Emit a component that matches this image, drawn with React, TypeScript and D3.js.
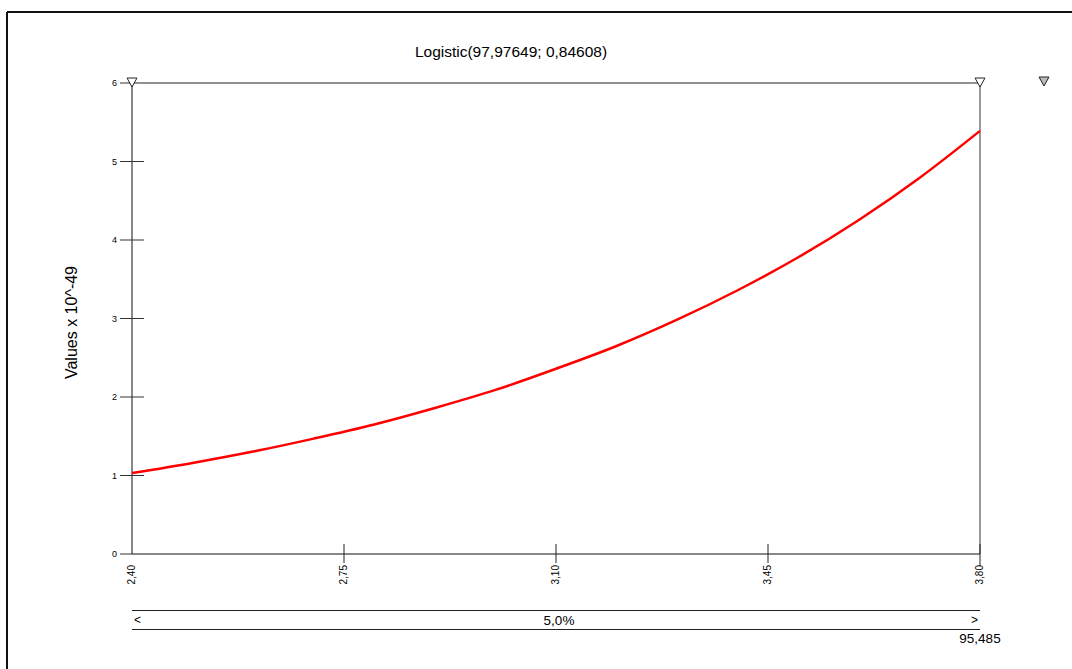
import React from "react";
import * as d3 from "d3";

const title = "Logistic(97,97649; 0,84608)";
const yLabel = "Values x 10^-49";
const xValues = [2.4, 2.5, 2.6, 2.7, 2.8, 2.9, 3.0, 3.1, 3.2, 3.3, 3.4, 3.5, 3.6, 3.7, 3.8];
const yValues = [1.03, 1.16, 1.305, 1.47, 1.65, 1.86, 2.09, 2.36, 2.65, 2.985, 3.36, 3.78, 4.255, 4.79, 5.39];
const xTicks = [2.4, 2.75, 3.1, 3.45, 3.8];
const xTickLabels = ["2,40", "2,75", "3,10", "3,45", "3,80"];
const yTicks = [0, 1, 2, 3, 4, 5, 6];
const bandLabel = "5,0%";
const rightValue = "95,485";

export default function App() {
  const W = 1072, H = 669;
  const x = d3.scaleLinear().domain([2.4, 3.8]).range([132, 980]);
  const y = d3.scaleLinear().domain([0, 6]).range([554, 83]);
  const line = d3.line<number>()
    .x((_, i) => x(xValues[i]))
    .y((d) => y(d))
    .curve(d3.curveMonotoneX);
  const font = "Arial, 'Liberation Sans', sans-serif";
  const x0 = x(2.4), x1 = x(3.8), yTop = y(6), yBot = y(0);
  const tri = (cx: number, cy: number) => `M${cx - 5},${cy - 5}L${cx + 5},${cy - 5}L${cx},${cy + 4}Z`;
  return (
    <svg width={W} height={H} style={{ position: "absolute", left: 0, top: 0, background: "#fff" }} fontFamily={font}>
      <rect x={0} y={0} width={W} height={H} fill="#fff" />
      <line x1={7} y1={12} x2={W} y2={12} stroke="#111" strokeWidth={2} />
      <line x1={7} y1={12} x2={7} y2={H} stroke="#111" strokeWidth={2} />
      <text x={511} y={57} textAnchor="middle" fontSize={15.5} fill="#000">{title}</text>
      <text transform={`translate(77,${(yTop + yBot) / 2 + 4}) rotate(-90)`} textAnchor="middle" fontSize={16} fill="#000">{yLabel}</text>
      <line x1={x0} y1={yTop} x2={x1} y2={yTop} stroke="#222" strokeWidth={1} />
      <line x1={x1} y1={yTop} x2={x1} y2={yBot} stroke="#777" strokeWidth={1.5} />
      <line x1={x0} y1={yTop} x2={x0} y2={yBot} stroke="#111" strokeWidth={1} />
      <line x1={x0} y1={yBot} x2={x1} y2={yBot} stroke="#111" strokeWidth={1} />
      {yTicks.map((t) => (
        <g key={t}>
          <line x1={120} x2={t === 0 || t === 6 ? x0 : 144} y1={y(t)} y2={y(t)} stroke="#333" strokeWidth={1} />
          <text x={117} y={y(t) + 3} textAnchor="end" fontSize={9} fill="#000">{t}</text>
        </g>
      ))}
      {xTicks.map((t, i) => (
        <g key={t}>
          {i > 0 && <line x1={x(t)} x2={x(t)} y1={544} y2={i === xTicks.length - 1 ? 566 : 563} stroke="#222" strokeWidth={1} />}
          <text transform={`translate(${x(t) + 3},${565}) rotate(-90)`} textAnchor="end" fontSize={10} fill="#000">{xTickLabels[i]}</text>
        </g>
      ))}
      <path d={line(yValues) || ""} fill="none" stroke="#ff0000" strokeWidth={2.5} />
      <path d={tri(x0, yTop)} fill="#fff" stroke="#222" strokeWidth={1} />
      <path d={tri(x1, yTop)} fill="#fff" stroke="#222" strokeWidth={1} />
      <path d={tri(1044, 82)} fill="#bbb" stroke="#222" strokeWidth={1} />
      <line x1={x0} x2={x1} y1={610.5} y2={610.5} stroke="#222" strokeWidth={1} />
      <line x1={x0} x2={x1} y1={629.5} y2={629.5} stroke="#222" strokeWidth={1} />
      <text x={x0 + 2} y={624} fontSize={12} fill="#000">&lt;</text>
      <text x={x1 - 2} y={624} textAnchor="end" fontSize={12} fill="#000">&gt;</text>
      <text x={(x0 + x1) / 2 + 3} y={625} textAnchor="middle" fontSize={13.5} fill="#000">{bandLabel}</text>
      <text x={x1} y={643} textAnchor="middle" fontSize={13.5} fill="#000">{rightValue}</text>
    </svg>
  );
}
